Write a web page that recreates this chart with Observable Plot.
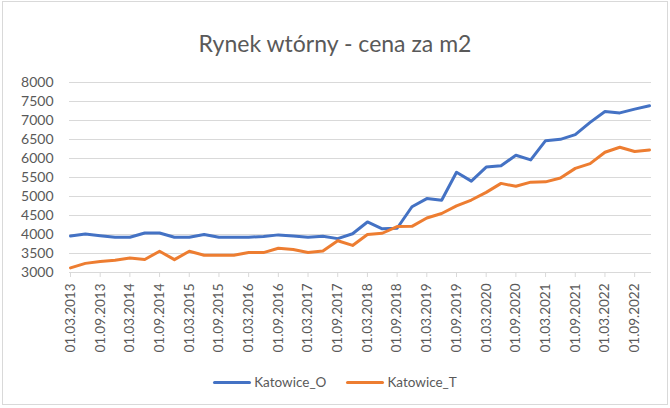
<!DOCTYPE html>
<html>
<head>
<meta charset="utf-8">
<script src="https://cdn.jsdelivr.net/npm/d3@7"></script>
<script src="https://cdn.jsdelivr.net/npm/@observablehq/plot@0.6"></script>
<style>
  html, body { margin: 0; padding: 0; background: #fff; }
  #wrap { position: relative; width: 670px; height: 408px; overflow: hidden; font-family: Lato, "Open Sans", sans-serif; }
  #frame { position: absolute; left: 2px; top: 1px; width: 664px; height: 402px; border: 1px solid #d9d9d9; box-sizing: content-box; }
  #title { position: absolute; left: 0; width: 670px; top: 29px; text-align: center; font-size: 23px; color: #595959; }
  #chart { position: absolute; left: 0; top: 0; }
  #legend { position: absolute; left: 0; width: 670px; top: 374px; display: flex; justify-content: center; gap: 20px; font-size: 13.5px; color: #595959; }
  .item { display: flex; align-items: center; }
  .sw { width: 38px; height: 3px; border-radius: 2px; margin-right: 3px; }
</style>
</head>
<body>
<div id="wrap">
  <div id="frame"></div>
  <div id="chart"></div>
  <div id="title">Rynek wtórny - cena za m2</div>
  <div id="legend"></div>
</div>
<script>
const dates = [
  "01.03.2013","01.06.2013","01.09.2013","01.12.2013",
  "01.03.2014","01.06.2014","01.09.2014","01.12.2014",
  "01.03.2015","01.06.2015","01.09.2015","01.12.2015",
  "01.03.2016","01.06.2016","01.09.2016","01.12.2016",
  "01.03.2017","01.06.2017","01.09.2017","01.12.2017",
  "01.03.2018","01.06.2018","01.09.2018","01.12.2018",
  "01.03.2019","01.06.2019","01.09.2019","01.12.2019",
  "01.03.2020","01.06.2020","01.09.2020","01.12.2020",
  "01.03.2021","01.06.2021","01.09.2021","01.12.2021",
  "01.03.2022","01.06.2022","01.09.2022","01.12.2022"
];
const katowiceO = [
  3961, 4013, 3970, 3926, 3926, 4040, 4040, 3926, 3926, 4000,
  3926, 3926, 3926, 3950, 3990, 3961, 3926, 3955, 3891, 4020,
  4330, 4150, 4165, 4730, 4945, 4900, 5637, 5405, 5775, 5810,
  6085, 5962, 6469, 6505, 6627, 6950, 7238, 7200, 7300, 7387
];
const katowiceT = [
  3122, 3240, 3288, 3323, 3380, 3342, 3560, 3338, 3560, 3454,
  3454, 3454, 3524, 3524, 3637, 3603, 3524, 3567, 3835, 3712,
  4000, 4033, 4210, 4215, 4435, 4553, 4755, 4907, 5108, 5345,
  5268, 5377, 5385, 5486, 5740, 5866, 6164, 6295, 6185, 6225
];
const seriesNames = ["Katowice_O", "Katowice_T"];
const seriesColors = ["#4472C4", "#ED7D31"];
const yTicks = [3000, 3500, 4000, 4500, 5000, 5500, 6000, 6500, 7000, 7500, 8000];
const xTickLabels = dates.filter((d, i) => i % 2 === 0);

const rows = [];
dates.forEach((d, i) => {
  rows.push({date: d, value: katowiceO[i], series: seriesNames[0]});
  rows.push({date: d, value: katowiceT[i], series: seriesNames[1]});
});

const W = 670, H = 408;
const mL = 69, mR = 19, mT = 82, mB = H - 272;

const chart = Plot.plot({
  width: W,
  height: H,
  marginLeft: mL,
  marginRight: mR,
  marginTop: mT,
  marginBottom: mB,
  style: {fontFamily: "Lato, 'Open Sans', sans-serif", fontSize: "13.5px", color: "#595959", background: "transparent"},
  x: {type: "point", domain: dates, range: [70, 649], padding: 0, label: null},
  y: {domain: [3000, 8000], range: [H - mB, mT], label: null},
  color: {domain: seriesNames, range: seriesColors},
  marks: [
    Plot.ruleY(yTicks.slice(1), {stroke: "#d9d9d9", strokeWidth: 1}),
    Plot.ruleY([3000], {stroke: "#d9d9d9", strokeWidth: 1}),
    Plot.axisY({ticks: yTicks, tickSize: 0, tickPadding: 16, tickFormat: d => String(d), fill: "#595959", fontSize: 14, label: null}),
    Plot.axisX({ticks: xTickLabels, tickSize: 5, tickFormat: () => "", stroke: "#d9d9d9", label: null}),
    Plot.text(xTickLabels, {x: d => d, y: () => 3000, text: d => d, rotate: -90, textAnchor: "end", lineAnchor: "middle", dy: 11, fill: "#595959", fontSize: 13.5}),
    Plot.line(rows, {x: "date", y: "value", stroke: "series", z: "series", strokeWidth: 3, strokeLinejoin: "round", strokeLinecap: "round"})
  ]
});
document.getElementById("chart").appendChild(chart);

const legend = document.getElementById("legend");
seriesNames.forEach((n, i) => {
  const it = document.createElement("div");
  it.className = "item";
  const sw = document.createElement("div");
  sw.className = "sw";
  sw.style.background = seriesColors[i];
  const tx = document.createElement("span");
  tx.textContent = n;
  it.appendChild(sw); it.appendChild(tx);
  legend.appendChild(it);
});
</script>
</body>
</html>
